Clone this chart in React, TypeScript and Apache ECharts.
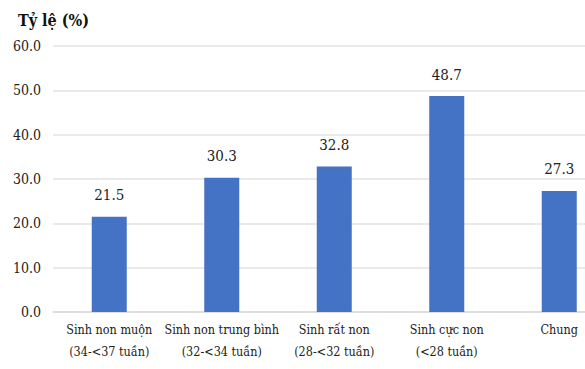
import React, { useEffect, useRef } from "react";
import * as echarts from "echarts";

const categories = [
  "Sinh non muộn\n(34-<37 tuần)",
  "Sinh non trung bình\n(32-<34 tuần)",
  "Sinh rất non\n(28-<32 tuần)",
  "Sinh cực non\n(<28 tuần)",
  "Chung",
];
const values = [21.5, 30.3, 32.8, 48.7, 27.3];
const yTitle = "Tỷ lệ (%)";

export default function App() {
  const ref = useRef<HTMLDivElement>(null);
  useEffect(() => {
    if (!ref.current) return;
    const chart = echarts.init(ref.current, undefined, { renderer: "svg" });
    const font = "DejaVu Serif Condensed";
    chart.setOption({
      animation: false,
      backgroundColor: "#ffffff",
      title: {
        text: yTitle,
        left: 13,
        top: 7,
        textStyle: { fontFamily: font, fontSize: 16, fontWeight: "bold", color: "#111" },
      },
      grid: { left: 53, top: 46, width: 562.5, height: 266, containLabel: false },
      xAxis: {
        type: "category",
        data: categories,
        axisLine: { lineStyle: { color: "#d9d9d9", width: 1.5 } },
        axisTick: { show: false },
        axisLabel: {
          fontFamily: font,
          fontSize: 12.5,
          color: "#222",
          lineHeight: 22,
          margin: 6,
          interval: 0,
        },
      },
      yAxis: {
        type: "value",
        min: 0,
        max: 60,
        interval: 10,
        axisLine: { show: false },
        axisTick: { show: false },
        splitLine: { lineStyle: { color: "#e3e3e3", width: 1.5 } },
        axisLabel: {
          fontFamily: font,
          fontSize: 14,
          color: "#222",
          margin: 12,
          formatter: (v: number) => v.toFixed(1),
        },
      },
      series: [
        {
          type: "bar",
          data: values,
          barWidth: 35,
          itemStyle: { color: "#4472C4" },
          label: {
            show: true,
            position: "top",
            distance: 14,
            fontFamily: font,
            fontSize: 15,
            color: "#222",
            formatter: (p: any) => Number(p.value).toFixed(1),
          },
        },
      ],
    });
    return () => chart.dispose();
  }, []);
  return (
    <div style={{ width: 585, height: 369, position: "absolute", left: 0, top: 0, overflow: "hidden", background: "#fff" }}>
      <div ref={ref} style={{ width: 640, height: 369 }} />
    </div>
  );
}
